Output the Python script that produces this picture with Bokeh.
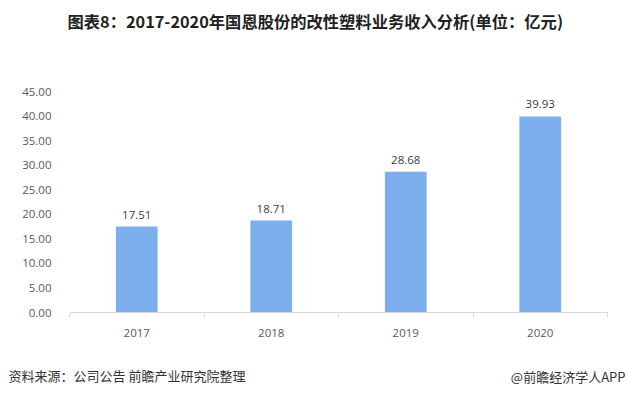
from bokeh.plotting import figure
from bokeh.models import (ColumnDataSource, LabelSet, Label, FixedTicker, NumeralTickFormatter, Range1d)
from bokeh.core.properties import value
from bokeh.embed import file_html
from bokeh.resources import INLINE

years = ["2017", "2018", "2019", "2020"]
revenue = [17.51, 18.71, 28.68, 39.93]
y_ticks = [0, 5, 10, 15, 20, 25, 30, 35, 40, 45]

title_text = "图表8：2017-2020年国恩股份的改性塑料业务收入分析(单位：亿元)"
source_text = "资料来源：公司公告 前瞻产业研究院整理"
brand_text = "@前瞻经济学人APP"

pos = [i + 1 for i in range(len(years))]
src = ColumnDataSource(dict(x=pos, top=revenue, label=[f"{v:.2f}" for v in revenue]))

p = figure(width=628, height=397, output_backend="svg", toolbar_location=None,
           x_range=Range1d(0.5, len(years) + 0.5), y_range=Range1d(0, 45),
           min_border_left=69, min_border_right=21, min_border_top=91, min_border_bottom=85)
p.outline_line_color = None
p.grid.visible = False
p.background_fill_color = "white"
p.border_fill_color = "white"

p.vbar(x="x", top="top", width=0.31, source=src, color="#7DAEEE", line_color=None)

labels = LabelSet(x="x", y="top", text="label", source=src, text_align="center",
                  text_baseline="bottom", y_offset=8, text_font_size=value("11.5px"),
                  text_color="#404040", text_font=value("Open Sans"))
p.add_layout(labels)

# x axis
xa = p.xaxis[0]
xa.ticker = FixedTicker(ticks=pos, minor_ticks=[i + 0.5 for i in range(len(years) + 1)])
xa.major_label_overrides = {i + 1: y for i, y in enumerate(years)}
xa.major_tick_line_color = None
xa.minor_tick_line_color = "#d9d9d9"
xa.minor_tick_in = 0
xa.minor_tick_out = 5
xa.axis_line_color = "#d9d9d9"
xa.axis_line_width = 1
xa.major_label_text_font = "Open Sans"
xa.major_label_text_font_size = "11.5px"
xa.major_label_text_color = "#595959"
xa.major_label_standoff = 10

# y axis
ya = p.yaxis[0]
ya.ticker = FixedTicker(ticks=y_ticks)
ya.formatter = NumeralTickFormatter(format="0.00")
ya.axis_line_color = None
ya.major_tick_line_color = None
ya.minor_tick_line_color = None
ya.major_label_text_font = "Open Sans"
ya.major_label_text_font_size = "11.5px"
ya.major_label_text_color = "#595959"
ya.major_label_standoff = 12

# title (side panel above) and footer (side panel below)
p.add_layout(Label(x=-2, y=71, x_units="screen", y_units="screen", text=title_text,
                   text_align="left", text_baseline="middle", text_font="Noto Sans CJK SC",
                   text_font_style="bold", text_font_size="16.3px", text_color="#222222"), "above")
p.add_layout(Label(x=-61, y=-17, x_units="screen", y_units="screen", text=source_text,
                   text_align="left", text_baseline="middle", text_font="Noto Sans CJK SC",
                   text_font_size="13px", text_color="#333333"), "below")
p.add_layout(Label(x=556, y=1, x_units="screen", y_units="screen", text=brand_text,
                   text_align="right", text_baseline="middle", text_font="Noto Sans CJK SC",
                   text_font_size="13px", text_color="#333333"), "below")

open("out.html", "w").write(file_html(p, INLINE))
